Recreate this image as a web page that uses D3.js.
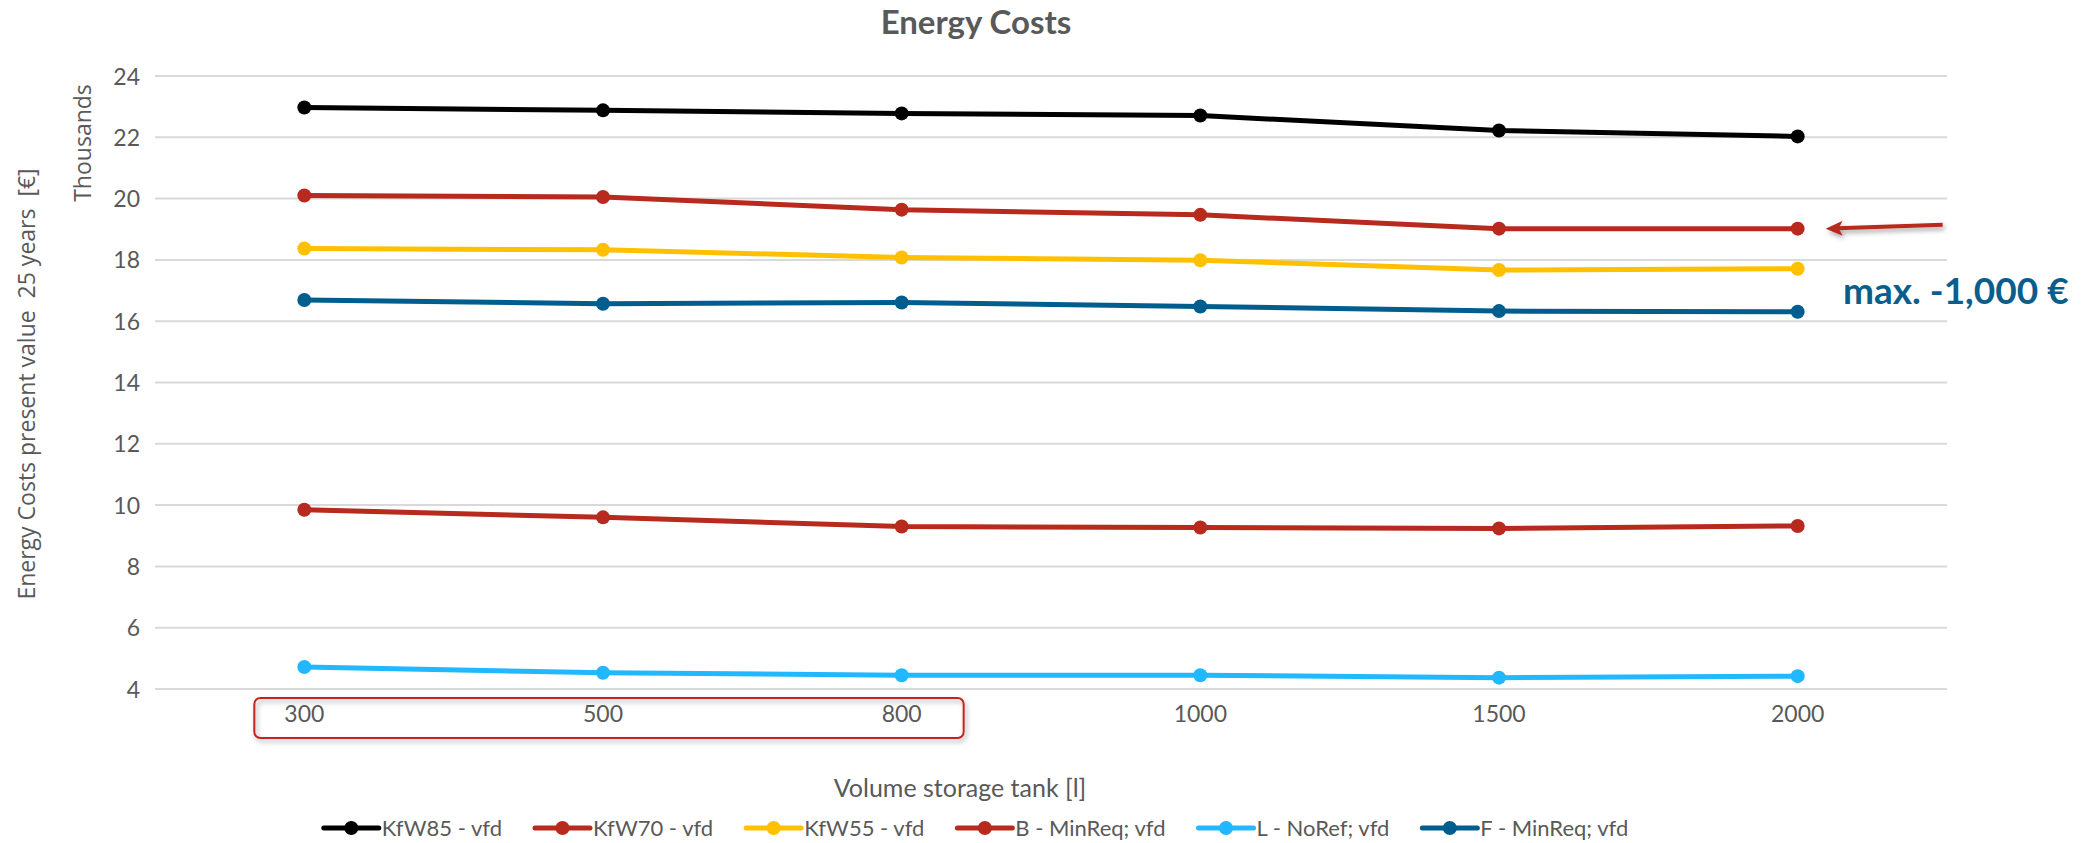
<!DOCTYPE html>
<html>
<head>
<meta charset="utf-8">
<script src="https://cdn.jsdelivr.net/npm/d3@7"></script>
<style>
  html, body { margin: 0; padding: 0; background: #fff; }
  svg { display: block; }
  text { font-family: Lato, "Open Sans", sans-serif; fill: #595959; }
</style>
</head>
<body>
<svg id="chart" width="2098" height="843"></svg>
<script>
// Storage tank volumes (litres) on the x axis
const volumes = ["300", "500", "800", "1000", "1500", "2000"];

// Present value of energy costs over 25 years, in thousands of euros
const kfw85 = [22.97, 22.88, 22.78, 22.71, 22.22, 22.03];
const kfw70 = [20.10, 20.05, 19.64, 19.47, 19.02, 19.02];
const kfw55 = [18.37, 18.33, 18.08, 17.99, 17.67, 17.71];
const bMinReq = [9.85, 9.60, 9.30, 9.27, 9.24, 9.32];
const lNoRef = [4.72, 4.53, 4.45, 4.45, 4.37, 4.42];
const fMinReq = [16.69, 16.57, 16.61, 16.48, 16.33, 16.31];

const seriesNames = ["KfW85 - vfd", "KfW70 - vfd", "KfW55 - vfd", "B - MinReq; vfd", "L - NoRef; vfd", "F - MinReq; vfd"];
const seriesColors = ["#000000", "#B8291E", "#FFC000", "#B8291E", "#22B8FF", "#005E8E"];
const seriesValues = [kfw85, kfw70, kfw55, bMinReq, lNoRef, fMinReq];

const yTicks = [4, 6, 8, 10, 12, 14, 16, 18, 20, 22, 24];

const svg = d3.select("#chart");
const plot = { left: 155, right: 1947, top: 76, bottom: 689 };

const x = d3.scaleBand().domain(volumes).range([plot.left, plot.right]);
const xc = v => x(v) + x.bandwidth() / 2;
const y = d3.scaleLinear().domain([4, 24]).range([plot.bottom, plot.top]);

// drop shadow used by the highlight box and the arrow
const defs = svg.append("defs");
const shadow = defs.append("filter").attr("id", "shadow")
  .attr("x", "-20%").attr("y", "-60%").attr("width", "140%").attr("height", "220%");
shadow.append("feDropShadow").attr("dx", 2).attr("dy", 3).attr("stdDeviation", 2.5)
  .attr("flood-color", "#000").attr("flood-opacity", 0.35);

// Title
svg.append("text").attr("x", 976).attr("y", 34).attr("text-anchor", "middle")
  .style("font-size", "33px").style("font-weight", "bold").text("Energy Costs");

// Gridlines
svg.append("g").selectAll("line").data(yTicks).join("line")
  .attr("x1", plot.left).attr("x2", plot.right)
  .attr("y1", d => y(d)).attr("y2", d => y(d))
  .attr("stroke", "#D9D9D9").attr("stroke-width", 2);

// Y axis labels
const yAxis = svg.append("g").attr("transform", `translate(${plot.left - 15},0)`)
  .call(d3.axisLeft(y).tickValues(yTicks).tickSize(0).tickPadding(0));
yAxis.select(".domain").remove();
yAxis.selectAll("text").style("font-size", "23px").attr("fill", "#595959")
  .style("font-family", "Lato, sans-serif").attr("dy", "0.35em");

// X axis labels
const xAxis = svg.append("g").attr("transform", `translate(0,${plot.bottom + 17})`)
  .call(d3.axisBottom(x).tickSize(0).tickPadding(0));
xAxis.select(".domain").remove();
xAxis.selectAll("text").style("font-size", "23px").attr("fill", "#595959")
  .style("font-family", "Lato, sans-serif").attr("dy", "0.71em");

// Highlight box around the smaller tank sizes
const boxLeft = xc("300") - 50, boxRight = xc("800") + 62;
svg.append("rect")
  .attr("x", boxLeft).attr("y", plot.bottom + 9)
  .attr("width", boxRight - boxLeft).attr("height", 40)
  .attr("rx", 6).attr("ry", 6)
  .attr("fill", "none").attr("stroke", "#C0281E").attr("stroke-width", 2)
  .attr("filter", "url(#shadow)");

// Axis titles
svg.append("text").attr("transform", "translate(35,384) rotate(-90)")
  .attr("text-anchor", "middle")
  .style("font-family", "'Open Sans', sans-serif").style("font-size", "23px")
  .style("white-space", "pre")
  .text("Energy Costs present value  25 years  [€]");
svg.append("text").attr("transform", "translate(91,143) rotate(-90)")
  .attr("text-anchor", "middle")
  .style("font-family", "'Open Sans', sans-serif").style("font-size", "23px")
  .text("Thousands");
svg.append("text").attr("x", 960).attr("y", 797).attr("text-anchor", "middle")
  .style("font-size", "25px").text("Volume storage tank [l]");

// Series lines and markers
const line = d3.line().x((d, i) => xc(volumes[i])).y(d => y(d));
const seriesG = svg.append("g").selectAll("g").data(seriesValues).join("g")
  .attr("fill", (d, i) => seriesColors[i]).attr("stroke", (d, i) => seriesColors[i]);
seriesG.append("path").attr("d", d => line(d)).attr("fill", "none")
  .attr("stroke-width", 5).attr("stroke-linejoin", "round");
seriesG.selectAll("circle").data(d => d).join("circle")
  .attr("cx", (d, i) => xc(volumes[i])).attr("cy", d => y(d)).attr("r", 7)
  .attr("stroke", "none");

// Arrow pointing at the KfW70 end point and its note
const arrowY = y(kfw70[5]);
const tipX = xc("2000") + 28;
const arrow = svg.append("g").attr("filter", "url(#shadow)").attr("fill", "#B8291E");
arrow.append("line")
  .attr("x1", tipX + 117).attr("y1", arrowY - 4)
  .attr("x2", tipX + 12).attr("y2", arrowY - 0.5)
  .attr("stroke", "#B8291E").attr("stroke-width", 4);
arrow.append("path")
  .attr("d", `M${tipX},${arrowY} L${tipX + 17},${arrowY - 8} L${tipX + 13},${arrowY - 0.5} L${tipX + 17},${arrowY + 7} Z`);
svg.append("text").attr("x", 1843).attr("y", 304)
  .style("font-size", "37px").style("font-weight", "bold")
  .style("fill", "#0B5E8B").text("max. -1,000 €");

// Legend
const legend = svg.append("g");
const items = legend.selectAll("g").data(seriesNames).join("g");
items.append("line").attr("x1", 0).attr("x2", 55).attr("y1", 0).attr("y2", 0)
  .attr("stroke", (d, i) => seriesColors[i]).attr("stroke-width", 5).attr("stroke-linecap", "round");
items.append("circle").attr("cx", 27.5).attr("cy", 0).attr("r", 7)
  .attr("fill", (d, i) => seriesColors[i]);
items.append("text").attr("x", 58).attr("y", 0).attr("dy", "0.35em")
  .style("font-size", "22px").text(d => d);
let cursor = 0;
const gap = 33;
items.each(function () {
  const w = this.getBBox().width;
  d3.select(this).attr("data-x", cursor);
  cursor += w + gap;
});
const total = cursor - gap;
const startX = 976 - total / 2;
items.attr("transform", function () {
  return `translate(${startX + (+this.getAttribute("data-x"))},828)`;
});
</script>
</body>
</html>
